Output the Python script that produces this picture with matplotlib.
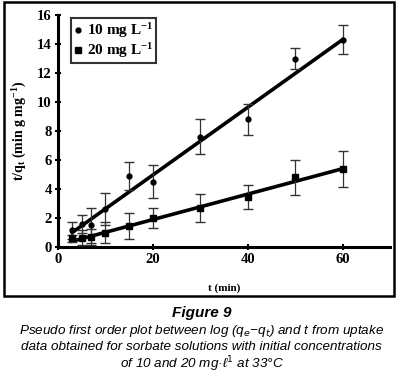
import numpy as np
import matplotlib
matplotlib.use("Agg")
import matplotlib.pyplot as plt
from matplotlib.patches import Rectangle

# time (min)
t = [3, 5, 7, 10, 15, 20, 30, 40, 50, 60]

# t/qt for 10 mg/L and error
y10 = [1.15, 1.6, 1.5, 2.6, 4.9, 4.5, 7.6, 8.8, 13.0, 14.3]
e10 = [0.6, 0.6, 1.2, 1.1, 0.95, 1.15, 1.2, 1.05, 0.7, 1.0]

# t/qt for 20 mg/L and error
y20 = [0.6, 0.65, 0.7, 1.0, 1.45, 2.0, 2.7, 3.45, 4.8, 5.4]
e20 = [0.25, 0.5, 0.55, 0.7, 0.9, 0.7, 0.95, 0.8, 1.2, 1.25]

# trend line ends (at t = 3 and t = 60) as drawn in the figure
fit_t = [3, 60]
fit10 = [1.0, 14.3]
fit20 = [0.4, 5.4]

leg_labels = ["10 mg L$^{\\mathbf{-1}}$", "20 mg L$^{\\mathbf{-1}}$"]
caption_title = "Figure 9"
caption_lines = [
    "Pseudo first order plot between log (q$_e$\u2212q$_t$) and t from uptake",
    "data obtained for sorbate solutions with initial concentrations",
    "of 10 and 20 mg\u00b7\u2113$^{1}$ at 33\u00b0C",
]

serif = "Liberation Serif"
sans = ["Liberation Sans", "DejaVu Sans"]
plt.rcParams["mathtext.fontset"] = "custom"
plt.rcParams["mathtext.rm"] = "Liberation Serif:bold"
plt.rcParams["mathtext.it"] = "Liberation Serif:bold"
plt.rcParams["mathtext.bf"] = "Liberation Serif:bold"

W, H = 403, 378
fig = plt.figure(figsize=(W / 100, H / 100), dpi=100)

# outer frame around the chart
fig.patches.append(Rectangle((4 / W, 1 - 296 / H), (394 - 4) / W, (296 - 2) / H,
                             transform=fig.transFigure, fill=False,
                             edgecolor="black", linewidth=1.8))

ax = fig.add_axes([58 / W, 1 - 247 / H, 332 / W, (247 - 15) / H])

for spine in ["top", "right"]:
    ax.spines[spine].set_visible(False)
for spine in ["left", "bottom"]:
    ax.spines[spine].set_linewidth(2.2)

# trend lines
ax.plot(fit_t, fit10, color="black", lw=2.6, zorder=2)
ax.plot(fit_t, fit20, color="black", lw=2.6, zorder=2)

ax.errorbar(t, y10, yerr=e10, fmt="o", ms=3.5, color="black", ecolor="#333333",
            elinewidth=0.9, capsize=3.5, capthick=1.0, zorder=3, label=leg_labels[0])
ax.errorbar(t, y20, yerr=e20, fmt="s", ms=4.5, color="black", ecolor="#333333",
            elinewidth=0.9, capsize=3.5, capthick=1.0, zorder=3, label=leg_labels[1])

ax.set_xlim(0, 70)
ax.set_ylim(0, 16)
ax.set_xticks([0, 20, 40, 60])
ax.set_yticks(range(0, 17, 2))
ax.tick_params(direction="inout", length=5, width=1.5, labelsize=10.5, pad=2)
for lab in ax.get_xticklabels() + ax.get_yticklabels():
    lab.set_fontfamily(serif)
    lab.set_fontweight("bold")

ax.set_xlabel("t (min)", fontfamily=serif, fontweight="bold", fontsize=8, labelpad=12)
ax.set_ylabel("t/q$_t$ (min g mg$^{-1}$)", fontfamily=serif, fontweight="bold",
              fontsize=10, labelpad=6)

handles, labels = ax.get_legend_handles_labels()
handles = [h[0] for h in handles]
leg = ax.legend(handles, labels, loc="upper left", bbox_to_anchor=(0.03, 1.0),
                frameon=True, fancybox=False, handlelength=0.5, handletextpad=0.35,
                borderpad=0.2, labelspacing=0.1, borderaxespad=0.2,
                prop={"family": serif, "weight": "bold", "size": 11})
leg.get_frame().set_edgecolor("black")
leg.get_frame().set_linewidth(1.5)

# caption below the chart
fig.text(0.5, 1 - 313 / H, caption_title, ha="center", va="center",
         fontfamily=sans, fontstyle="italic", fontweight="bold", fontsize=11)
for i, line in enumerate(caption_lines):
    fig.text(0.5, 1 - (331 + i * 16.5) / H, line, ha="center", va="center",
             fontfamily=sans, fontstyle="italic", fontsize=9.7,
             math_fontfamily="dejavusans")

fig.savefig("out.png", dpi=100)
